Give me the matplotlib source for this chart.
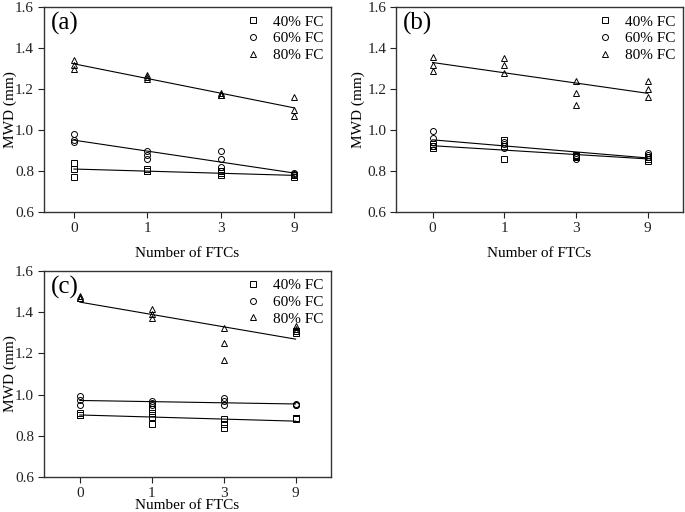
import numpy as np
import matplotlib
matplotlib.use('Agg')
from matplotlib import pyplot as plt

plt.rcParams['font.family'] = ['Liberation Serif', 'DejaVu Serif']
plt.rcParams['mathtext.fontset'] = 'stix'

##################################################################################
### DATA
##################################################################################
ftc_labels = ['0', '1', '3', '9']
series_names = ['40% FC', '60% FC', '80% FC']

# panel (a)
a_40 = [[0.84, 0.81, 0.77], [0.81, 0.80, 0.80], [0.80, 0.79, 0.78], [0.78, 0.78, 0.77]]
a_60 = [[0.98, 0.95, 0.94], [0.90, 0.88, 0.86], [0.90, 0.86, 0.82], [0.79, 0.785, 0.78]]
a_80 = [[1.34, 1.32, 1.30], [1.27, 1.26, 1.25], [1.18, 1.17, 1.17], [1.16, 1.10, 1.07]]

# panel (b)
b_40 = [[0.93, 0.92, 0.91], [0.95, 0.92, 0.86], [0.88, 0.875, 0.87], [0.87, 0.86, 0.85]]
b_60 = [[0.995, 0.96, 0.92], [0.94, 0.93, 0.91], [0.87, 0.86, 0.87], [0.89, 0.88, 0.87]]
b_80 = [[1.355, 1.32, 1.29], [1.35, 1.32, 1.28], [1.24, 1.18, 1.12], [1.24, 1.20, 1.16]]

# panel (c)
c_40 = [[0.91, 0.90, 0.90], [0.93, 0.91, 0.89, 0.86], [0.88, 0.86, 0.84], [0.885, 0.885, 0.88]]
c_60 = [[0.995, 0.975, 0.95], [0.97, 0.96, 0.95], [0.985, 0.97, 0.95], [0.955, 0.95, 0.95]]
c_80 = [[1.48, 1.47, 1.47], [1.415, 1.39, 1.37], [1.325, 1.25, 1.17], [1.335, 1.32, 1.31]]
# stray square symbols drawn next to the 80% points at 9 FTCs in panel (c)
c_extra_sq = [1.31, 1.30]

markers = ['s', 'o', '^']


def plot_panel(ax, groups, tag, xlim, ylab_x, xlab_pad, extra=None):
    '''
    Scatter the replicate values of each FC level and add a linear fit
    against the FTC category index.
    '''
    for vals, mk, name in zip(groups, markers, series_names):
        xs = np.concatenate([[i] * len(v) for i, v in enumerate(vals)])
        ys = np.concatenate([v for v in vals])
        ax.plot(xs, ys, linestyle='none', marker=mk, markersize=4.3,
                markerfacecolor='none', markeredgecolor='k',
                markeredgewidth=0.7, label=name)
        k, b = np.polyfit(xs, ys, 1)
        xf = np.array([0, len(vals) - 1])
        ax.plot(xf, k * xf + b, color='k', lw=0.8)
    if extra is not None:
        ax.plot([3] * len(extra), extra, linestyle='none', marker='s',
                markersize=4.3, markerfacecolor='none', markeredgecolor='k',
                markeredgewidth=0.7)

    ax.set_xlim(*xlim)
    ax.set_ylim(0.6, 1.6)
    ax.set_xticks(range(len(ftc_labels)))
    ax.set_xticklabels(ftc_labels)
    ax.set_yticks(np.arange(0.6, 1.61, 0.2))
    ax.set_yticklabels(['%.1f' % t for t in np.arange(0.6, 1.61, 0.2)])
    ax.tick_params(direction='out', length=4, width=0.8, labelsize=11,
                   top=False, right=False, pad=3, colors='#222222')
    for sp in ax.spines.values():
        sp.set_linewidth(1.0)
        sp.set_color('#333333')
    ax.set_xlabel('Number of FTCs', fontsize=11, labelpad=xlab_pad)
    ax.set_ylabel('MWD (mm)', fontsize=11)
    ax.yaxis.set_label_coords(ylab_x, 0.5)
    ax.text(0.025, 0.975, tag, transform=ax.transAxes, fontsize=18,
            va='top', ha='left')
    ax.legend(loc='upper right', frameon=False, fontsize=11,
              handletextpad=0.8, labelspacing=0.2, borderaxespad=0.1,
              handlelength=1.0, markerscale=1.0)


##################################################################################
### FIGURE
##################################################################################
fig = plt.figure(figsize=(6.85, 5.12), dpi=100)

ax_a = fig.add_axes([0.064, 0.586, 0.419, 0.400])
ax_b = fig.add_axes([0.578, 0.586, 0.419, 0.400])
ax_c = fig.add_axes([0.064, 0.068, 0.419, 0.403])

plot_panel(ax_a, [a_40, a_60, a_80], '(a)', (-0.41, 3.5), -0.094, 9)
plot_panel(ax_b, [b_40, b_60, b_80], '(b)', (-0.51, 3.49), -0.108, 9)
plot_panel(ax_c, [c_40, c_60, c_80], '(c)', (-0.5, 3.49), -0.094, -1,
           extra=c_extra_sq)

fig.savefig('out.png', dpi=100)
